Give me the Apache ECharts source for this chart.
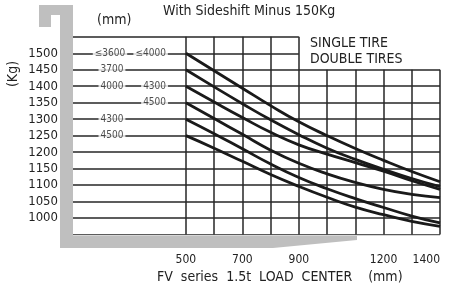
<!DOCTYPE html>
<html>
<head>
<meta charset="utf-8">
<script src="https://cdn.jsdelivr.net/npm/echarts/dist/echarts.min.js"></script>
<style>
  html, body { margin: 0; padding: 0; background: #fff; }
  #chart { width: 455px; height: 302px; }
</style>
</head>
<body>
<div id="chart"></div>
<script>
// load center (mm)
var loadCenters = [500, 600, 700, 800, 900, 1000, 1100, 1200, 1300, 1400]
// capacity curves (Kg), top to bottom
var curve1 = [1500, 1447, 1394, 1341, 1292, 1250, 1211, 1175, 1141, 1110]
var curve2 = [1450, 1398, 1347, 1298, 1253, 1212, 1178, 1148, 1120, 1095]
var curve3 = [1400, 1352, 1305, 1260, 1222, 1194, 1168, 1142, 1113, 1087]
var curve4 = [1350, 1302, 1254, 1206, 1166, 1134, 1108, 1087, 1072, 1062]
var curve5 = [1300, 1256, 1210, 1164, 1123, 1089, 1059, 1032, 1006, 985]
var curve6 = [1250, 1212, 1172, 1132, 1096, 1063, 1033, 1010, 990, 975]

var xTickLabels = [500, 700, 900, 1200, 1400]
var yTickLabels = [1000, 1050, 1100, 1150, 1200, 1250, 1300, 1350, 1400, 1450, 1500]

// grid rows / columns of the chart sheet
var gridRows = [950, 1000, 1050, 1100, 1150, 1200, 1250, 1300, 1350, 1400, 1450, 1500, 1550]
var gridCols = [500, 600, 700, 800, 900, 1000, 1100, 1200, 1300, 1400]

// mast height tags written on the rows
var mastTags = ['≤3600', '≤4000', '3700', '4000', '4300', '4500', '4300', '4500']
var mastTagX = [231, 375, 238, 238, 389, 389, 238, 238]
var mastTagY = [1500, 1500, 1450, 1400, 1400, 1350, 1300, 1250]

var FONT = 'DejaVu Sans Condensed'
var INK = '#1a1a1a'

function pairs(ys) {
  return loadCenters.map(function(x, i) { return [x, ys[i]] })
}

var segments = []
gridRows.forEach(function(v) {
  segments.push({ coords: [[100, v], [v >= 1500 ? 900 : 1400, v]] })
})
gridCols.forEach(function(c) {
  segments.push({ coords: [[c, 950], [c, c <= 900 ? 1550 : 1450]] })
})

var tags = mastTags.map(function(t, i) {
  return { name: t, value: [mastTagX[i], mastTagY[i]] }
})

var curveSeries = [curve1, curve2, curve3, curve4, curve5, curve6].map(function(c) {
  return {
    type: 'line',
    smooth: true,
    symbol: 'none',
    z: 4,
    data: pairs(c),
    lineStyle: { color: INK, width: 2.8 }
  }
})

var chart = echarts.init(document.getElementById('chart'))
chart.setOption({
  animation: false,
  textStyle: { fontFamily: FONT },
  grid: { left: 73, right: 15, top: 36.8, bottom: 67.5 },
  xAxis: {
    type: 'value',
    min: 100,
    max: 1400,
    interval: 100,
    axisLine: { show: false },
    axisTick: { show: false },
    splitLine: { show: false },
    axisLabel: {
      fontSize: 12,
      color: '#222',
      margin: 19,
      fontFamily: FONT,
      alignMaxLabel: 'right',
      formatter: function(v) { return xTickLabels.indexOf(v) >= 0 ? String(v) : '' }
    }
  },
  yAxis: {
    type: 'value',
    min: 950,
    max: 1550,
    interval: 50,
    axisLine: { show: false },
    axisTick: { show: false },
    splitLine: { show: false },
    axisLabel: {
      fontSize: 13,
      color: '#222',
      margin: 15,
      fontFamily: FONT,
      formatter: function(v) { return yTickLabels.indexOf(v) >= 0 ? String(v) : '' }
    }
  },
  graphic: [
    {
      type: 'polygon',
      z: -1,
      shape: {
        points: [[39, 5], [73, 5], [73, 236], [357, 236], [357, 240], [273, 248],
          [60, 248], [60, 15], [51, 15], [51, 27], [39, 27]]
      },
      style: { fill: '#bfbfbf' }
    },
    { type: 'text', x: 163, y: 4, style: { text: 'With Sideshift Minus 150Kg', fontSize: 14, fontFamily: FONT, fill: '#222' } },
    { type: 'text', x: 97, y: 13, style: { text: '(mm)', fontSize: 14, fontFamily: FONT, fill: '#222' } },
    { type: 'text', x: 13, y: 74, rotation: Math.PI / 2, style: { text: '(Kg)', fontSize: 14, fontFamily: FONT, fill: '#222', align: 'center', verticalAlign: 'middle' } },
    { type: 'text', x: 310, y: 36, style: { text: 'SINGLE TIRE', fontSize: 14, fontFamily: FONT, fill: '#222' } },
    { type: 'text', x: 310, y: 52, style: { text: 'DOUBLE TIRES', fontSize: 14, fontFamily: FONT, fill: '#222' } },
    { type: 'text', x: 157, y: 270, style: { text: 'FV  series  1.5t  LOAD  CENTER    (mm)', fontSize: 14, fontFamily: FONT, fill: '#222' } }
  ],
  series: [
    {
      type: 'lines',
      coordinateSystem: 'cartesian2d',
      silent: true,
      z: 2,
      lineStyle: { color: '#262626', width: 1.5, opacity: 1 },
      data: segments
    },
    {
      type: 'scatter',
      symbolSize: 0,
      z: 3,
      data: tags,
      label: {
        show: true,
        position: 'inside',
        formatter: '{b}',
        fontSize: 10,
        fontFamily: FONT,
        color: '#222',
        backgroundColor: '#fff',
        padding: [1, 2]
      }
    }
  ].concat(curveSeries)
})
</script>
</body>
</html>
